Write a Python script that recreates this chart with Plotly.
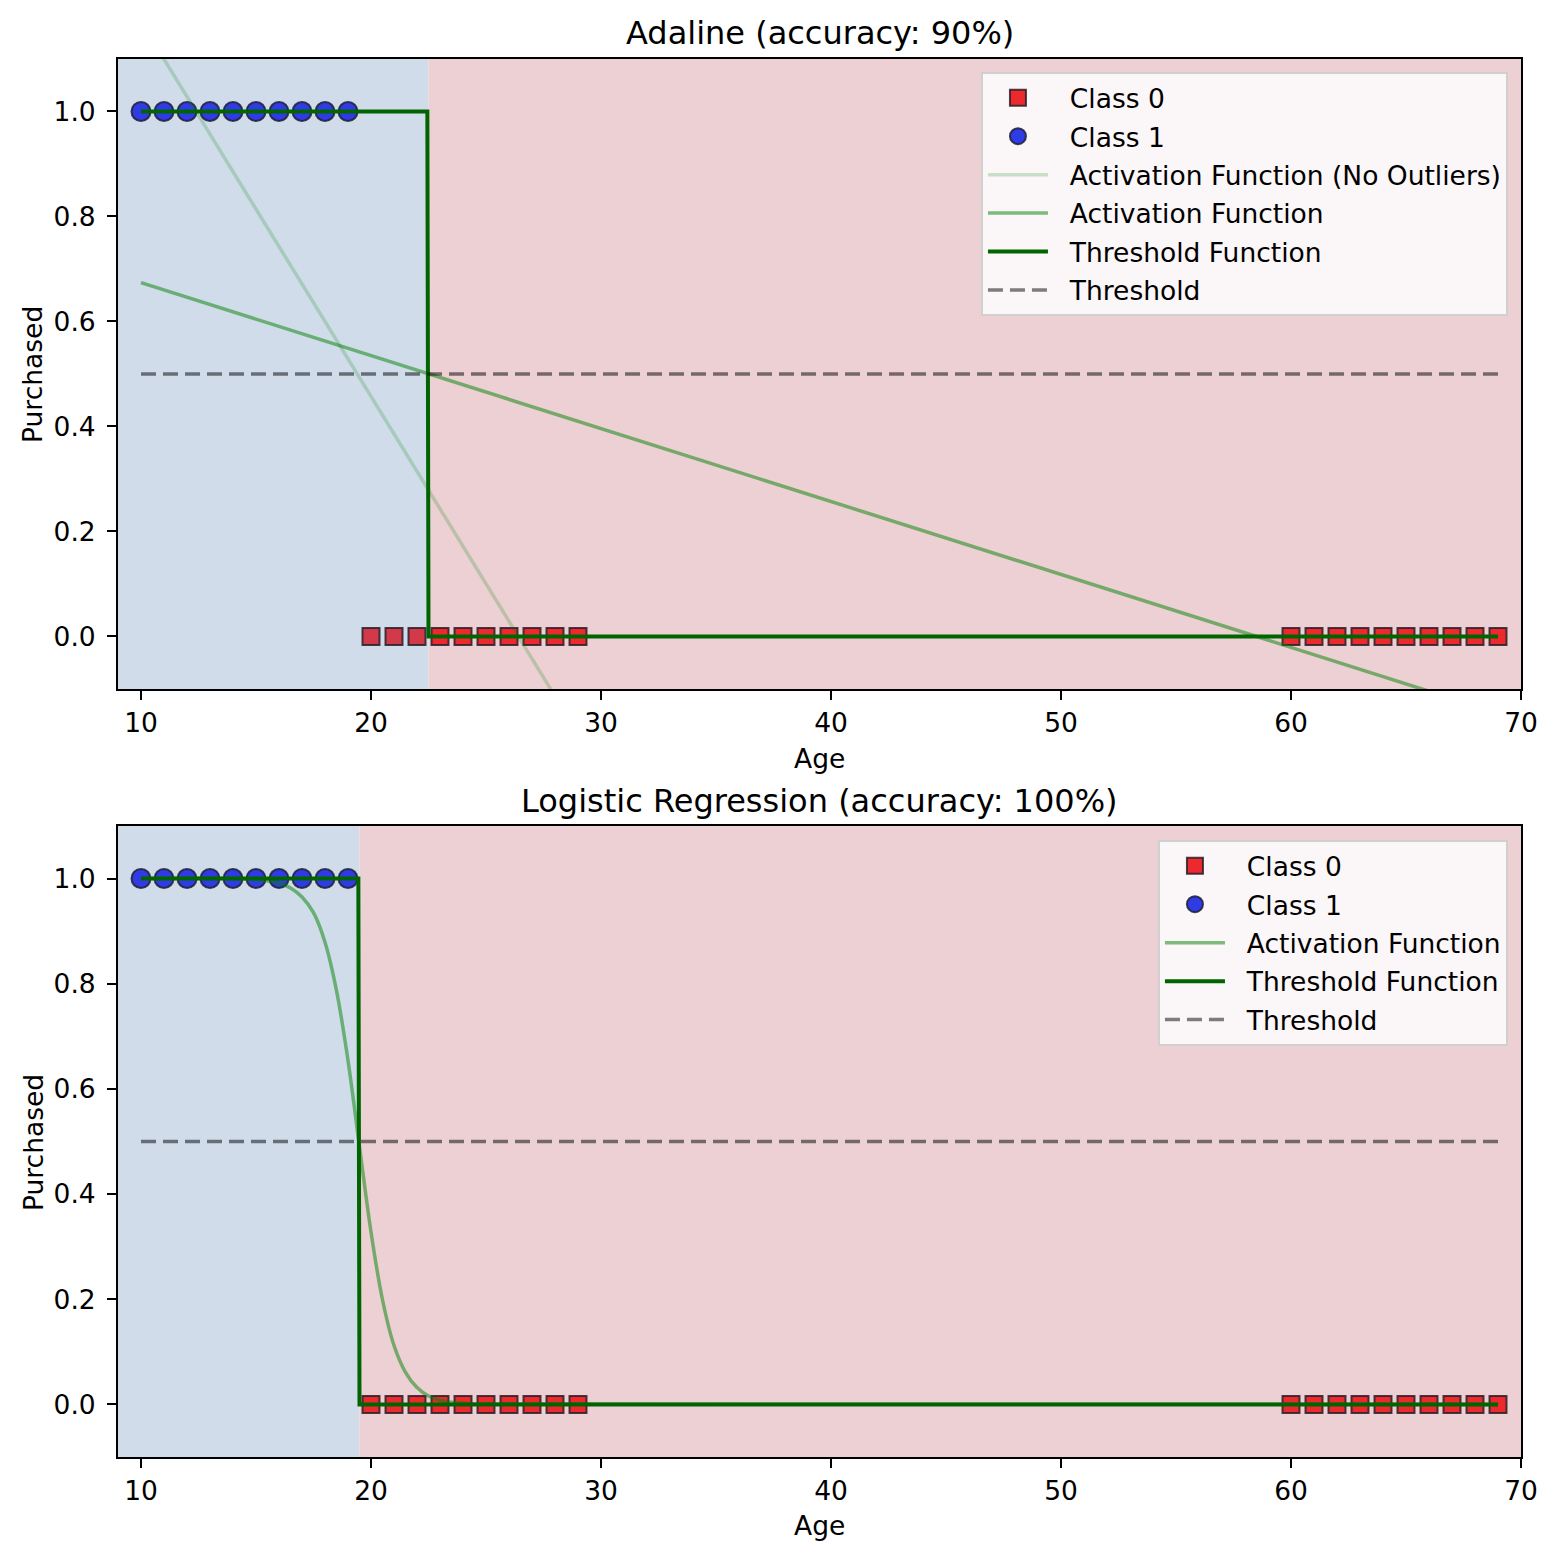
import plotly.graph_objects as go

# Data
ages_class1 = [10, 11, 12, 13, 14, 15, 16, 17, 18, 19]
purchased_class1 = [1, 1, 1, 1, 1, 1, 1, 1, 1, 1]
ages_class0 = [20, 21, 22, 23, 24, 25, 26, 27, 28, 29,
               60, 61, 62, 63, 64, 65, 66, 67, 68, 69]
purchased_class0 = [0] * 20

line_ages = [10, 69]
threshold_level = [0.5, 0.5]

# Adaline
adaline_act = [0.674, -0.146]
adaline_act_no_outliers = [1.171, -3.04]
adaline_boundary = 22.5
adaline_step_x = [10, 22.45, 22.5, 69]
adaline_step_y = [1, 1, 0, 0]

# Logistic regression
logreg_boundary = 19.5
logreg_step_x = [10, 19.45, 19.5, 69]
logreg_step_y = [1, 1, 0, 0]
sigmoid_x = [10, 15, 16, 16.5, 17, 17.5, 18, 18.5, 19, 19.5, 20,
             20.5, 21, 21.5, 22, 22.5, 23, 24, 25, 69]
sigmoid_y = [1.0, 0.998, 0.991, 0.982, 0.965, 0.935, 0.879, 0.787, 0.654,
             0.490, 0.328, 0.199, 0.112, 0.061, 0.032, 0.016, 0.008, 0.002,
             0.0006, 0.0]

FONT = 'DejaVu Sans'
BLUE_BG = '#d0dcea'
RED_BG = '#ecd0d4'
RED_MARK = '#ec2a2e'
X_RANGE = [9, 70]
Y_RANGE = [-0.1, 1.1]
PAD = '\u00a0\u00a0'

fig = go.Figure()


def add_panel(xa, ya, legend, boundary, step_x, step_y, act_x, act_y,
              act_shape, no_outliers=None):
    xref = 'x' if xa == 'x' else 'x2'
    yref = 'y' if ya == 'y' else 'y2'
    # decision regions
    fig.add_shape(type='rect', xref=xref, yref=yref, x0=X_RANGE[0],
                  x1=boundary, y0=Y_RANGE[0], y1=Y_RANGE[1],
                  fillcolor=BLUE_BG, line_width=0, layer='below')
    fig.add_shape(type='rect', xref=xref, yref=yref, x0=boundary,
                  x1=X_RANGE[1], y0=Y_RANGE[0], y1=Y_RANGE[1],
                  fillcolor=RED_BG, line_width=0, layer='below')

    # markers tinted by the region they sit in
    sq_colors = ['#d23a4a' if a < boundary else RED_MARK
                 for a in ages_class0]
    sq_line = dict(color='rgba(40,30,40,0.85)', width=2)
    fig.add_trace(go.Scatter(
        x=ages_class0, y=purchased_class0, mode='markers', showlegend=False,
        marker=dict(symbol='square', size=17, color=sq_colors, line=sq_line),
        xaxis=xa, yaxis=ya, legendgroup='a'))
    # legend entry for class 0 (plain colour)
    fig.add_trace(go.Scatter(
        x=[None], y=[None], mode='markers', name=PAD + 'Class 0',
        marker=dict(symbol='square', size=16, color=RED_MARK, line=sq_line),
        xaxis=xa, yaxis=ya, legend=legend, legendgroup='a'))
    fig.add_trace(go.Scatter(
        x=ages_class1, y=purchased_class1, mode='markers',
        name=PAD + 'Class 1',
        marker=dict(symbol='circle', size=19, color='#2f3ce6',
                    line=dict(color='rgba(30,30,50,0.85)', width=2)),
        xaxis=xa, yaxis=ya, legend=legend, legendgroup='b'))
    if no_outliers is not None:
        fig.add_trace(go.Scatter(
            x=line_ages, y=no_outliers, mode='lines',
            name=PAD + 'Activation Function (No Outliers)',
            line=dict(color='rgba(0,128,0,0.2)', width=3.5),
            xaxis=xa, yaxis=ya, legend=legend, legendgroup='c'))
    fig.add_trace(go.Scatter(
        x=act_x, y=act_y, mode='lines', name=PAD + 'Activation Function',
        line=dict(color='rgba(0,128,0,0.5)', width=3.5, shape=act_shape),
        xaxis=xa, yaxis=ya, legend=legend, legendgroup='d'))
    fig.add_trace(go.Scatter(
        x=step_x, y=step_y, mode='lines', name=PAD + 'Threshold Function',
        line=dict(color='#006400', width=4),
        xaxis=xa, yaxis=ya, legend=legend, legendgroup='e'))
    fig.add_trace(go.Scatter(
        x=line_ages, y=threshold_level, mode='lines', name=PAD + 'Threshold',
        line=dict(color='rgba(0,0,0,0.5)', width=3.5, dash='15px,7px'),
        xaxis=xa, yaxis=ya, legend=legend, legendgroup='f'))


add_panel('x', 'y', 'legend', adaline_boundary, adaline_step_x,
          adaline_step_y, line_ages, adaline_act, 'linear',
          no_outliers=adaline_act_no_outliers)
add_panel('x2', 'y2', 'legend2', logreg_boundary, logreg_step_x,
          logreg_step_y, sigmoid_x, sigmoid_y, 'spline')

axis_common = dict(
    showgrid=False, zeroline=False, showline=True, linecolor='black',
    linewidth=2, mirror=True, ticks='outside', ticklen=9, tickwidth=2,
    tickcolor='black', tickfont=dict(family=FONT, size=26.5, color='black'),
)
x_common = dict(axis_common, range=X_RANGE, ticklabelstandoff=0,
                tickvals=[10, 20, 30, 40, 50, 60, 70])
y_common = dict(axis_common, range=Y_RANGE, ticklabelstandoff=6,
                tickvals=[0, 0.2, 0.4, 0.6, 0.8, 1.0], tickformat='.1f')

legend_common = dict(
    bgcolor='rgba(255,255,255,0.8)', bordercolor='#d0d0d0', borderwidth=2,
    font=dict(family=FONT, size=26.5, color='black'), xanchor='right',
    yanchor='top', itemwidth=60, traceorder='grouped', tracegroupgap=1,
)

fig.update_layout(
    width=1558, height=1558,
    margin=dict(l=110, r=45, t=51, b=109),
    paper_bgcolor='white', plot_bgcolor='white',
    font=dict(family=FONT, size=26.5, color='black'),
    xaxis=dict(x_common, domain=[0, 1], anchor='y'),
    yaxis=dict(y_common, domain=[0.5494, 1], anchor='x'),
    xaxis2=dict(x_common, domain=[0, 1], anchor='y2'),
    yaxis2=dict(y_common, domain=[0, 0.4514], anchor='x2'),
    legend=dict(legend_common, x=0.9907, y=0.9907),
    legend2=dict(legend_common, x=0.9907, y=0.4413),
)

annotations = [
    dict(text='Adaline (accuracy: 90%)', x=0.5, y=1.0186, size=32),
    dict(text='Logistic Regression (accuracy: 100%)', x=0.5, y=0.4693,
         size=32),
    dict(text='Age', x=0.5, y=0.500, size=26.5),
    dict(text='Age', x=0.5, y=-0.0492, size=26.5),
]
for a in annotations:
    fig.add_annotation(text=a['text'], x=a['x'], y=a['y'], xref='paper',
                       yref='paper', showarrow=False, xanchor='center',
                       yanchor='middle',
                       font=dict(family=FONT, size=a['size'], color='black'))
for yy in [0.7747, 0.2253]:
    fig.add_annotation(text='Purchased', x=-0.0606, y=yy, xref='paper',
                       yref='paper', showarrow=False, textangle=-90,
                       xanchor='center', yanchor='middle',
                       font=dict(family=FONT, size=26.5, color='black'))

fig.write_html('out.html')
